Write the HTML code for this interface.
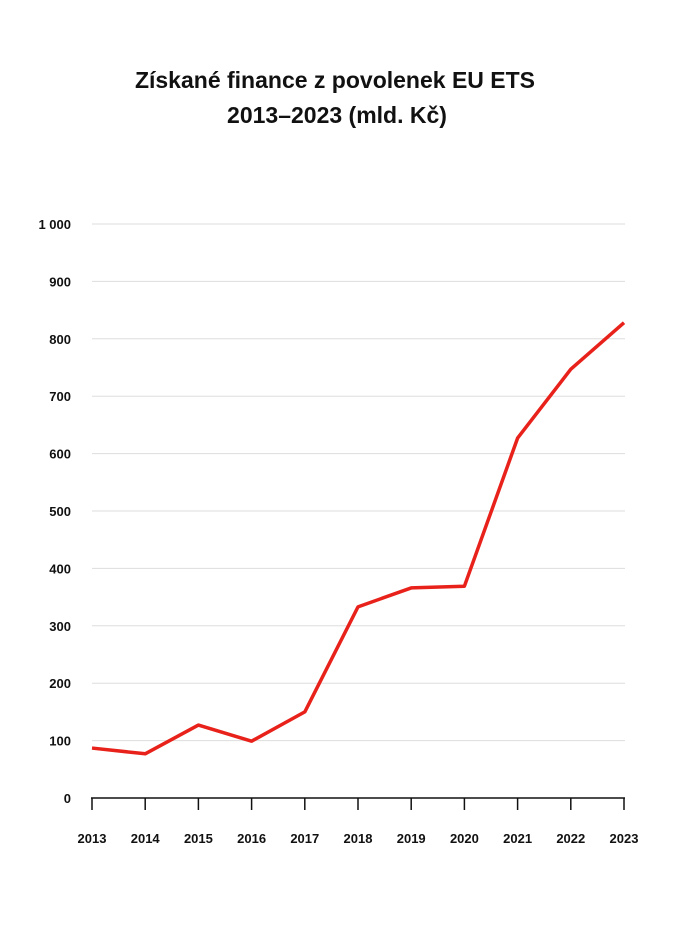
<!DOCTYPE html>
<html><head><meta charset="utf-8"><style>
body{margin:0;background:#fff;font-family:"Liberation Sans",sans-serif;}
svg{display:block}
</style></head><body>
<svg width="675" height="927">
<text x="335" y="88" text-anchor="middle" font-size="23" font-weight="bold" fill="#111">Získané finance z povolenek EU ETS</text>
<text x="337" y="123" text-anchor="middle" font-size="23" font-weight="bold" fill="#111">2013–2023 (mld. Kč)</text>
<g id="grid"></g><g id="yt"></g><g id="xt"></g><g id="series"></g>
</svg>
<script>
const years=["2013","2014","2015","2016","2017","2018","2019","2020","2021","2022","2023"];
const values=[87,77,127,99,150,333,366,369,627,747,828];
const yTicks=[0,100,200,300,400,500,600,700,800,900,1000];
const yTickLabels=["0","100","200","300","400","500","600","700","800","900","1 000"];
const NS="http://www.w3.org/2000/svg";
const x0=92,x1=624,y0=798,y1=224;
const xs=i=>x0+(x1-x0)*i/(years.length-1);
const ys=v=>y0-(y0-y1)*v/1000;
function mk(t,a,p){const e=document.createElementNS(NS,t);for(const k in a)e.setAttribute(k,a[k]);p.appendChild(e);return e;}
const g=document.getElementById('grid'),yt=document.getElementById('yt'),xt=document.getElementById('xt'),s=document.getElementById('series');
yTicks.forEach((v,i)=>{
 if(v>0){const l=mk('line',{x1:92,x2:625,y1:ys(v),y2:ys(v),stroke:'#ddd','stroke-width':1},g);
 
 }
 const t=mk('text',{x:71,y:ys(v)+5,'text-anchor':'end','font-size':13,'font-weight':'bold',fill:'#111'},yt);
 t.textContent=yTickLabels[i];
 
 
});
const ax=mk('line',{x1:91,x2:625,y1:y0,y2:y0,stroke:'#111','stroke-width':1.5},xt);


years.forEach((y,i)=>{
 const tk=mk('line',{x1:xs(i),x2:xs(i),y1:y0,y2:y0+12,stroke:'#111','stroke-width':1.5},xt);
 
 
 const t=mk('text',{x:xs(i),y:843,'text-anchor':'middle','font-size':13,'font-weight':'bold',fill:'#111'},xt);
 t.textContent=y;
 
 
});
const p=mk('polyline',{points:values.map((v,i)=>xs(i)+','+ys(v)).join(' '),fill:'none',stroke:'#e8221b','stroke-width':3.5,'stroke-linejoin':'round'},s);


</script>
</body></html>
